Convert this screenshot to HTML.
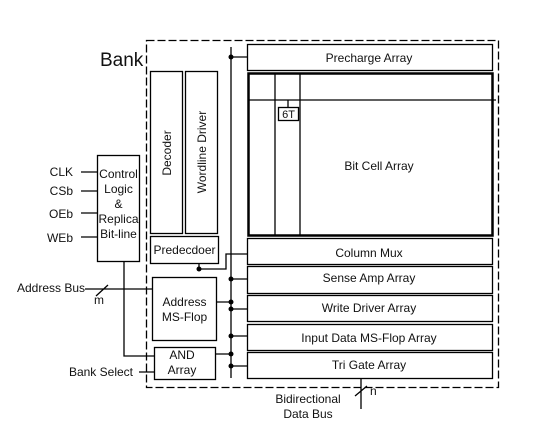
<!DOCTYPE html><html><head><style>body{margin:0;background:#fff}svg{display:block}text{font-family:"Liberation Sans",sans-serif;font-size:12px;fill:#111}</style></head><body>
<svg width="553" height="443" viewBox="0 0 553 443" xmlns="http://www.w3.org/2000/svg">
<g fill="none" stroke="#000" stroke-width="1.3">
<rect x="146.5" y="40.5" width="352" height="347" stroke-dasharray="8,3"/>
<line x1="231" y1="47" x2="231" y2="378"/>
<rect x="247.5" y="44.5" width="245" height="26"/>
<rect x="248.5" y="73.5" width="244" height="162" stroke-width="2.5"/>
<line x1="275" y1="74" x2="275" y2="235"/><line x1="300" y1="74" x2="300" y2="235"/>
<line x1="249" y1="100" x2="496" y2="100"/>
<rect x="278.5" y="107.5" width="20" height="13"/><line x1="288" y1="100" x2="288" y2="107"/>
<rect x="247.5" y="238.5" width="245" height="26"/>
<rect x="247.5" y="266.5" width="245" height="27"/>
<rect x="247.5" y="295.5" width="245" height="26"/>
<rect x="247.5" y="324.5" width="245" height="26"/>
<rect x="247.5" y="352.5" width="245" height="26"/>
<rect x="150.5" y="71.5" width="32" height="162"/>
<rect x="185.5" y="71.5" width="32" height="162"/>
<rect x="150.5" y="236.5" width="68" height="27"/>
<rect x="152.5" y="277.5" width="64" height="63"/>
<rect x="154.5" y="347.5" width="61" height="32"/>
<rect x="97.5" y="155.5" width="42" height="106"/>
<path d="M231 57H247M199 263V269H226V254H247M231 279H247M216 302H231M231 309H247M231 336H247M215 354H231M231 366H247"/>
<path d="M81 172H97M81 191H97M81 213H97M81 237H97"/>
<path d="M124 262V356H154M85 289H153M96 296L108 285M139 372H154"/>
<path d="M361 379V409M355 396L367 386"/>
</g>
<g fill="#000"><circle cx="231" cy="57" r="2.5"/><circle cx="199" cy="269" r="2.5"/><circle cx="231" cy="279" r="2.5"/><circle cx="231" cy="302" r="2.5"/><circle cx="231" cy="309" r="2.5"/><circle cx="231" cy="336" r="2.5"/><circle cx="231" cy="354" r="2.5"/><circle cx="231" cy="366" r="2.5"/></g>
<text x="100" y="66" style="font-size:19px">Bank</text>
<text x="369" y="62" text-anchor="middle">Precharge Array</text>
<text x="288.5" y="118" text-anchor="middle" style="font-size:11px">6T</text>
<text x="379" y="170" text-anchor="middle">Bit Cell Array</text>
<text x="369" y="257" text-anchor="middle">Column Mux</text>
<text x="369" y="282" text-anchor="middle">Sense Amp Array</text>
<text x="369" y="312" text-anchor="middle">Write Driver Array</text>
<text x="369" y="342" text-anchor="middle">Input Data MS-Flop Array</text>
<text x="369" y="369" text-anchor="middle">Tri Gate Array</text>
<text transform="translate(171,153) rotate(-90)" text-anchor="middle">Decoder</text>
<text transform="translate(206,152) rotate(-90)" text-anchor="middle">Wordline Driver</text>
<text x="184.5" y="254" text-anchor="middle">Predecdoer</text>
<text x="184.5" y="306" text-anchor="middle">Address</text>
<text x="184.5" y="321" text-anchor="middle">MS-Flop</text>
<text x="182" y="359" text-anchor="middle">AND</text>
<text x="182" y="374" text-anchor="middle">Array</text>
<text x="118.5" y="178" text-anchor="middle">Control</text>
<text x="118.5" y="193" text-anchor="middle">Logic</text>
<text x="118.5" y="208" text-anchor="middle">&amp;</text>
<text x="118.5" y="223" text-anchor="middle">Replica</text>
<text x="118.5" y="238" text-anchor="middle">Bit-line</text>
<text x="73" y="176" text-anchor="end">CLK</text>
<text x="73" y="195" text-anchor="end">CSb</text>
<text x="73" y="218" text-anchor="end">OEb</text>
<text x="73" y="242" text-anchor="end">WEb</text>
<text x="17" y="292">Address Bus</text>
<text x="94" y="304">m</text>
<text x="133" y="376" text-anchor="end">Bank Select</text>
<text x="370" y="395">n</text>
<text x="308" y="403" text-anchor="middle">Bidirectional</text>
<text x="308" y="418" text-anchor="middle">Data Bus</text>
</svg></body></html>
